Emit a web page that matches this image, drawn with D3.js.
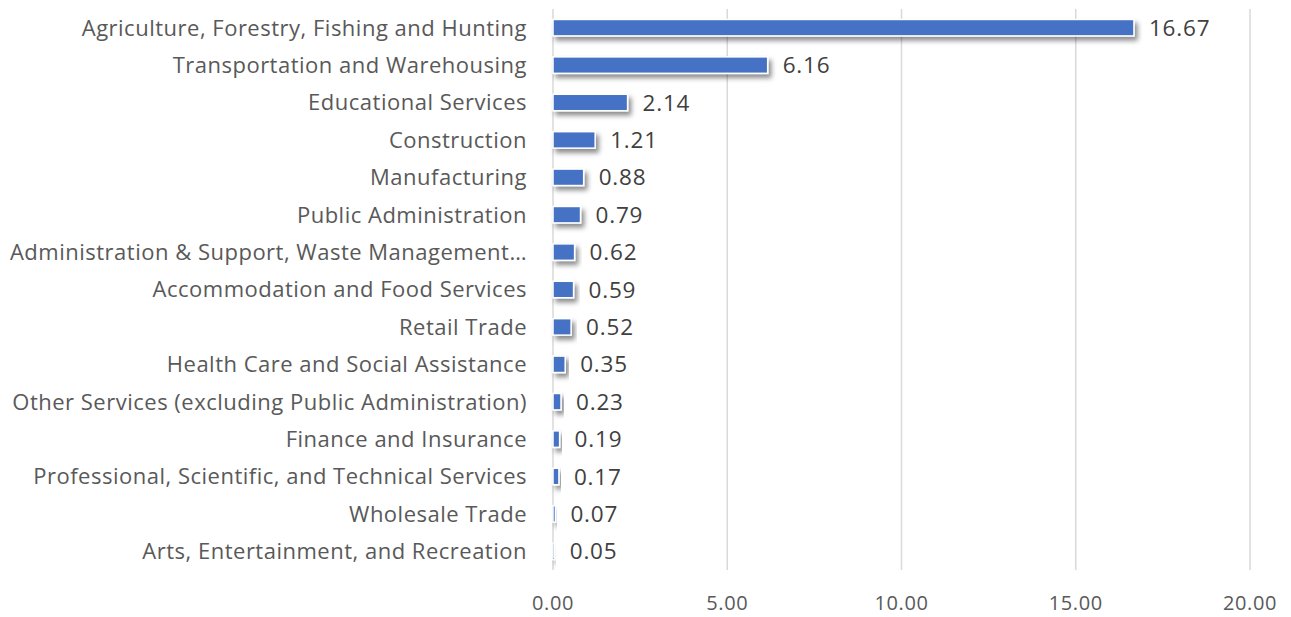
<!DOCTYPE html>
<html>
<head>
<meta charset="utf-8">
<script src="https://cdn.jsdelivr.net/npm/d3@7"></script>
<style>
  body { margin: 0; background: #fff; }
  svg { font-family: "Open Sans", sans-serif; }
  .grid line { stroke: #d9d9d9; stroke-width: 1.5; }
  .cat { fill: #595959; font-size: 22px; letter-spacing: 0.5px; }
  .val { fill: #404040; font-size: 22.5px; letter-spacing: 0.8px; }
  .tick-label { fill: #595959; font-size: 20px; letter-spacing: 0.6px; }
</style>
</head>
<body>
<svg width="1291" height="617"></svg>
<script>
const categories = [
    'Agriculture, Forestry, Fishing and Hunting',
    'Transportation and Warehousing',
    'Educational Services',
    'Construction',
    'Manufacturing',
    'Public Administration',
    'Administration & Support, Waste Management…',
    'Accommodation and Food Services',
    'Retail Trade',
    'Health Care and Social Assistance',
    'Other Services (excluding Public Administration)',
    'Finance and Insurance',
    'Professional, Scientific, and Technical Services',
    'Wholesale Trade',
    'Arts, Entertainment, and Recreation'
];
const values = [16.67, 6.16, 2.14, 1.21, 0.88, 0.79, 0.62, 0.59, 0.52, 0.35, 0.23, 0.19, 0.17, 0.07, 0.05];
const xTicks = [0, 5, 10, 15, 20];

const svg = d3.select('svg');
const plotLeft = 553, plotRight = 1250, plotTop = 9, plotBottom = 570;

const x = d3.scaleLinear().domain([0, 20]).range([plotLeft, plotRight]);
const y = d3.scaleBand().domain(categories).range([plotTop, plotBottom]).paddingInner(0.56).paddingOuter(0.28);

const defs = svg.append('defs');
const shadow = defs.append('filter').attr('id', 'shadow')
    .attr('x', '-20%').attr('y', '-60%').attr('width', '150%').attr('height', '300%');
shadow.append('feDropShadow')
    .attr('dx', 3).attr('dy', 4).attr('stdDeviation', 2.8)
    .attr('flood-color', '#000').attr('flood-opacity', 0.45);

// gridlines
svg.append('g').attr('class', 'grid')
    .selectAll('line')
    .data(xTicks)
    .enter().append('line')
    .attr('x1', d => x(d)).attr('x2', d => x(d))
    .attr('y1', plotTop).attr('y2', plotBottom);

// bars
svg.append('g')
    .selectAll('rect')
    .data(values)
    .enter().append('rect')
    .attr('x', x(0))
    .attr('y', (d, i) => y(categories[i]))
    .attr('width', d => x(d) - x(0))
    .attr('height', y.bandwidth())
    .attr('fill', '#4472c4')
    .attr('stroke', '#fff')
    .attr('stroke-width', 1.5)
    .attr('filter', 'url(#shadow)');

// value labels
svg.append('g')
    .selectAll('text')
    .data(values)
    .enter().append('text')
    .attr('class', 'val')
    .attr('x', d => x(d) + 15)
    .attr('y', (d, i) => y(categories[i]) + y.bandwidth() / 2)
    .attr('dy', '0.36em')
    .text(d => d.toFixed(2));

// category labels
svg.append('g')
    .selectAll('text')
    .data(categories)
    .enter().append('text')
    .attr('class', 'cat')
    .attr('x', plotLeft - 26)
    .attr('y', d => y(d) + y.bandwidth() / 2)
    .attr('dy', '0.36em')
    .attr('text-anchor', 'end')
    .text(d => d);

// x axis labels
svg.append('g')
    .selectAll('text')
    .data(xTicks)
    .enter().append('text')
    .attr('class', 'tick-label')
    .attr('x', d => x(d))
    .attr('y', 610)
    .attr('text-anchor', 'middle')
    .text(d => d.toFixed(2));
</script>
</body>
</html>
